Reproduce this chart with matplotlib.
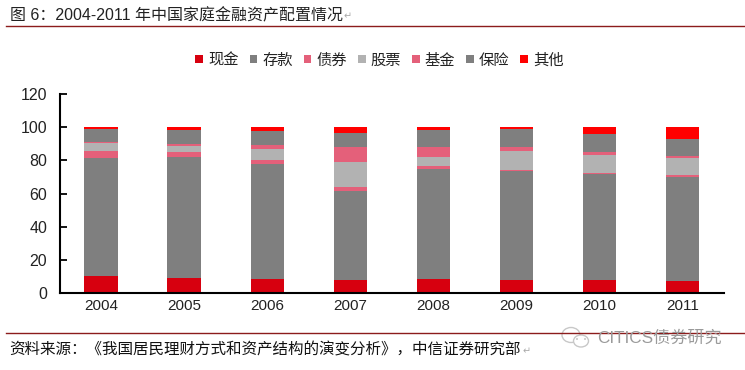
import matplotlib
matplotlib.use('Agg')
import matplotlib.pyplot as plt
import numpy as np
from matplotlib.patches import Circle, Ellipse

plt.rcParams['font.family'] = ['Liberation Sans', 'Noto Sans CJK SC', 'DejaVu Sans']

years = ['2004', '2005', '2006', '2007', '2008', '2009', '2010', '2011']
names = ['现金', '存款', '债券', '股票', '基金', '保险', '其他']
cash = [10.0, 9.3, 8.7, 7.8, 8.2, 7.6, 7.6, 7.2]
deposit = [71.6, 72.5, 68.9, 54.0, 66.8, 65.8, 64.0, 63.0]
bond = [3.8, 3.2, 2.6, 2.4, 1.6, 1.0, 0.8, 0.8]
stock = [4.8, 3.8, 6.8, 14.8, 5.6, 11.0, 11.0, 10.2]
fund = [1.0, 1.0, 2.2, 9.2, 5.6, 2.4, 1.8, 1.2]
insure = [7.6, 8.2, 8.4, 8.0, 10.4, 11.2, 10.4, 10.2]
other = [1.2, 2.0, 2.4, 3.8, 1.8, 1.0, 4.4, 7.4]
series = [cash, deposit, bond, stock, fund, insure, other]
colors = ['#d7000f', '#7f7f7f', '#e4607a', '#b2b2b2', '#e4607a', '#7f7f7f', '#ff0000']
title = '图 6：2004-2011 年中国家庭金融资产配置情况'
source = '资料来源：《我国居民理财方式和资产结构的演变分析》，中信证券研究部'
W, H = 745, 370

fig = plt.figure(figsize=(W / 100, H / 100), dpi=100)
ax = fig.add_axes([59.5 / W, 1 - 293 / H, 664.5 / W, 199 / H])

x = np.arange(len(years))
bottom = np.zeros(len(years))
for vals, name, c in zip(series, names, colors):
    ax.bar(x, vals, 0.4, bottom=bottom, color=c, label=name)
    bottom = bottom + np.array(vals)

ax.set_xlim(-0.5, 7.5)
ax.set_ylim(0, 120)
ax.set_yticks(range(0, 121, 20))
ax.set_xticks(x)
ax.set_xticklabels(years)
ax.tick_params(axis='x', length=0, labelsize=11, pad=4.5, labelcolor='#222222')
ax.tick_params(axis='y', direction='in', length=5, width=1.3, labelsize=11.5, pad=9, labelcolor='#222222')
ax.spines['top'].set_visible(False)
ax.spines['right'].set_visible(False)
ax.spines['left'].set_linewidth(1.5)
ax.spines['bottom'].set_linewidth(1.5)

fig.legend(loc='center', bbox_to_anchor=(379.5 / W, 1 - 60.5 / H), ncol=7, frameon=False,
           fontsize=11, handlelength=0.5, handleheight=0.45, handletextpad=0.33,
           columnspacing=0.72, borderpad=0, labelcolor='#222222')

# rules
fig.add_artist(plt.Line2D([6 / W, 1], [1 - 26 / H] * 2, color='#8c1c1c', lw=1))
fig.add_artist(plt.Line2D([6 / W, 1], [1 - 333 / H] * 2, color='#8c1c1c', lw=1))

fig.text(10 / W, 1 - 15.5 / H, title, fontsize=11.5, va='center', color='#222222')
fig.text(344 / W, 1 - 16 / H, '↵', fontsize=7, va='center', color='#aaaaaa')
fig.text(9 / W, 1 - 350 / H, source, fontsize=11.2, va='center', color='#111111')
fig.text(523 / W, 1 - 351 / H, '↵', fontsize=7, va='center', color='#aaaaaa')

# watermark
fig.text(597 / W, 1 - 338 / H, 'CITICS债券研究', fontsize=12.3, va='center', color='#9a9a9a', zorder=5)
bg = fig.add_axes([0, 0, 1, 1], facecolor='none')
bg.set_xlim(0, W)
bg.set_ylim(H, 0)
bg.axis('off')
bg.add_patch(Ellipse((571, 335), 18, 15, fc='white', ec='#c8c8c8', lw=1))
bg.add_patch(Ellipse((581, 341), 15, 12, fc='white', ec='#c8c8c8', lw=1))
bg.add_patch(Circle((577, 339), 1, fc='#c8c8c8', ec='none'))
bg.add_patch(Circle((585, 339), 1, fc='#c8c8c8', ec='none'))

fig.savefig('out.png', dpi=100)
